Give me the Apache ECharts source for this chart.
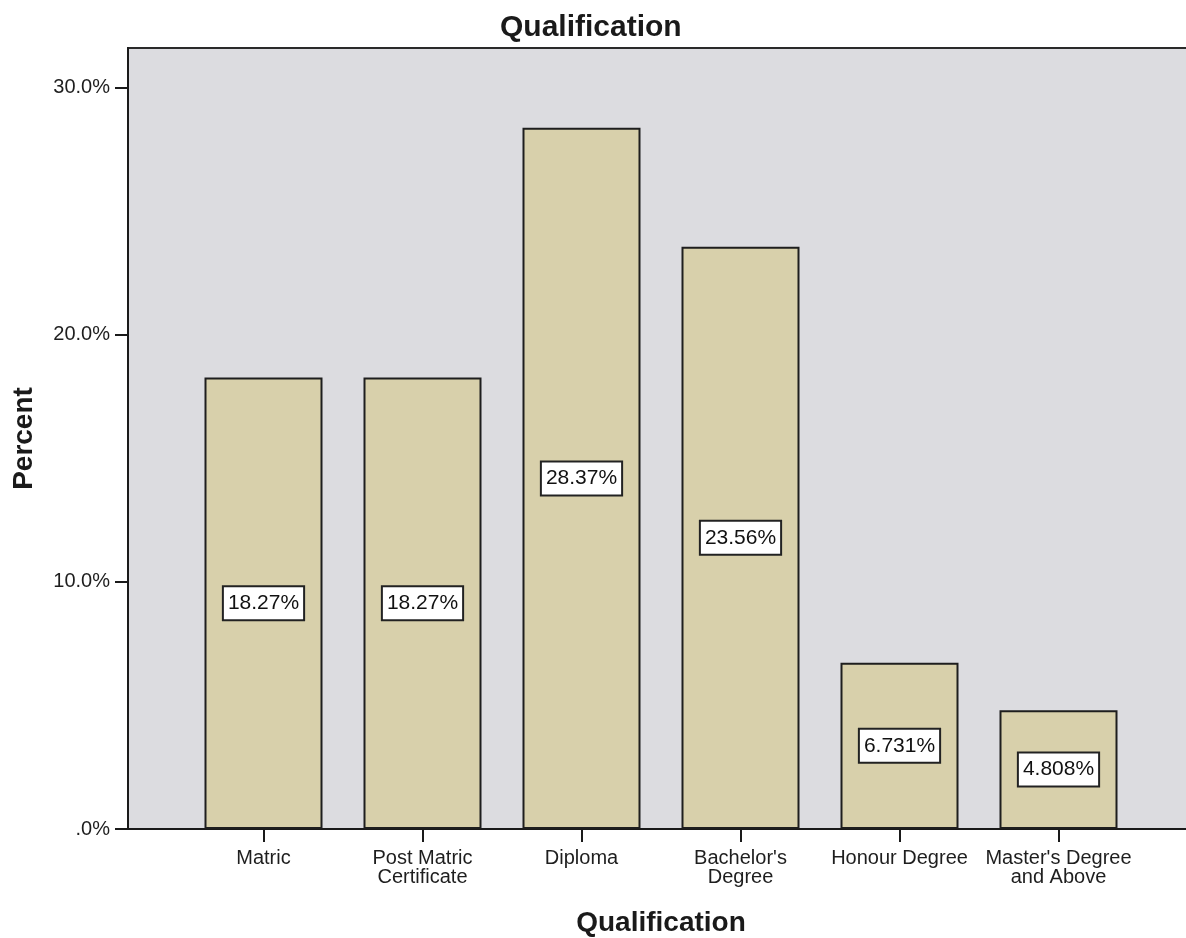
<!DOCTYPE html>
<html>
<head>
<meta charset="utf-8">
<script src="https://cdn.jsdelivr.net/npm/echarts@6/dist/echarts.min.js"></script>
<style>
  html, body { margin: 0; padding: 0; background: #ffffff; }
  #chart { width: 1186px; height: 938px; }
</style>
</head>
<body>
<div id="chart"></div>
<script>
// Share of respondents by highest qualification
const categories = ['Matric', 'Post Matric\nCertificate', 'Diploma', "Bachelor's\nDegree", 'Honour Degree', "Master's Degree\nand Above"];
const percents = [18.27, 18.27, 28.37, 23.56, 6.731, 4.808];
const yTicks = [0, 10, 20, 30];

const FONT = '"Liberation Sans", Arial, sans-serif';
const Y_MAX = 31.6;

const chart = echarts.init(document.getElementById('chart'));

chart.setOption({
  animation: false,
  backgroundColor: '#ffffff',
  title: {
    text: 'Qualification',
    left: 495,
    top: 8,
    textStyle: { fontFamily: FONT, fontSize: 30, fontWeight: 'bold', color: '#1a1a1a' }
  },
  grid: [
    // frame: background, value axis, top border and baseline
    { left: 128, right: -12, top: 48, bottom: 109, outerBoundsMode: 'none', containLabel: false,
      show: true, backgroundColor: '#dcdce0', borderColor: '#2a2a2a', borderWidth: 2 },
    // category band for the bars
    { left: 184, width: 954, top: 48, bottom: 109, outerBoundsMode: 'none', containLabel: false }
  ],
  xAxis: [
    {
      gridIndex: 0, type: 'value', min: 0, max: 1, show: true,
      axisLine: { show: true, lineStyle: { color: '#1a1a1a', width: 2 } },
      axisTick: { show: false }, axisLabel: { show: false }, splitLine: { show: false }
    },
    {
      gridIndex: 1, type: 'category', data: categories, boundaryGap: true,
      name: 'Qualification', nameLocation: 'middle', nameGap: 80,
      nameTextStyle: { fontFamily: FONT, fontSize: 28, fontWeight: 'bold', color: '#1a1a1a' },
      axisLine: { show: false },
      axisTick: { show: true, alignWithLabel: true, length: 13, lineStyle: { color: '#1a1a1a', width: 2 } },
      axisLabel: { fontFamily: FONT, fontSize: 20, color: '#1e1e1e', margin: 20, lineHeight: 19, interval: 0 },
      splitLine: { show: false }
    }
  ],
  yAxis: [
    {
      gridIndex: 0, type: 'value', min: 0, max: Y_MAX, interval: 10,
      name: 'Percent', nameLocation: 'middle', nameGap: 90, nameRotate: 90,
      nameTextStyle: { fontFamily: FONT, fontSize: 28, fontWeight: 'bold', color: '#1a1a1a' },
      axisLine: { show: true, lineStyle: { color: '#1a1a1a', width: 2 } },
      axisTick: { show: true, inside: false, length: 13, lineStyle: { color: '#1a1a1a', width: 2 },
                  customValues: yTicks },
      axisLabel: {
        customValues: yTicks,
        fontFamily: FONT, fontSize: 20, color: '#1e1e1e', margin: 18,
        formatter: v => (v === 0 ? '.0' : v.toFixed(1)) + '%'
      },
      splitLine: { show: false }
    },
    {
      gridIndex: 1, type: 'value', min: 0, max: Y_MAX, show: false
    }
  ],
  series: [
    {
      type: 'bar',
      xAxisIndex: 1, yAxisIndex: 1,
      data: percents,
      barWidth: 118,
      itemStyle: { color: '#d8d0ab', borderColor: '#1e1e1e', borderWidth: 2 },
      label: {
        show: true,
        position: 'inside',
        formatter: p => p.value + '%',
        fontFamily: FONT, fontSize: 21, color: '#111',
        backgroundColor: '#ffffff',
        borderColor: '#222', borderWidth: 2,
        padding: [6, 4, 5, 4]
      }
    }
  ]
});
</script>
</body>
</html>
